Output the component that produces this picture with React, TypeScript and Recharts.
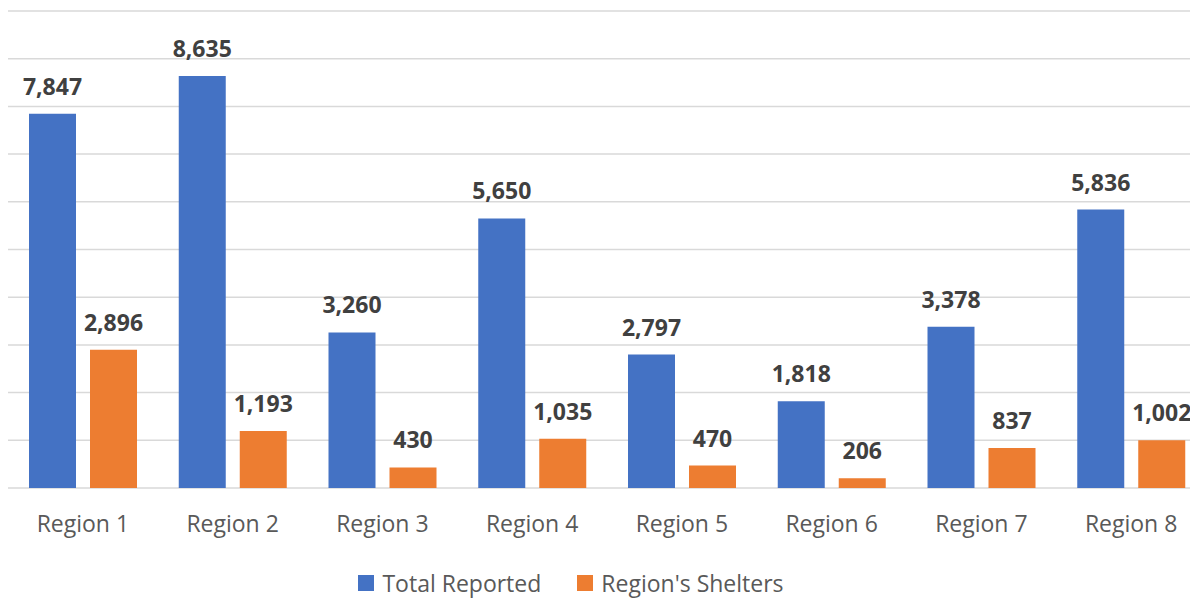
import { Bar, BarChart, CartesianGrid, LabelList, Legend, XAxis, YAxis } from 'recharts';

const regions = ['Region 1', 'Region 2', 'Region 3', 'Region 4', 'Region 5', 'Region 6', 'Region 7', 'Region 8'];
const totalReported = [7847, 8635, 3260, 5650, 2797, 1818, 3378, 5836];
const regionShelters = [2896, 1193, 430, 1035, 470, 206, 837, 1002];
const yTicks = [0, 1000, 2000, 3000, 4000, 5000, 6000, 7000, 8000, 9000, 10000];

const seriesList = [
  { key: 'total', name: 'Total Reported', color: '#4472C4' },
  { key: 'shelters', name: "Region's Shelters", color: '#ED7D31' },
];

const data = regions.map((name, i) => ({
  name,
  total: totalReported[i],
  shelters: regionShelters[i],
}));

const font = '"Open Sans", Lato, sans-serif';
const fmt = (v: any) => Number(v).toLocaleString('en-US');

// legend kept in series order (recharts would sort it by name)
function LegendBox() {
  return (
    <div style={{ display: 'flex', justifyContent: 'center', paddingRight: 72, fontFamily: font }}>
      {seriesList.map((s, i) => (
        <div key={s.key} style={{ display: 'flex', alignItems: 'center', marginLeft: i ? 36 : 0 }}>
          <span style={{ width: 16, height: 16, background: s.color, display: 'inline-block', marginRight: 8 }} />
          <span style={{ color: '#595959', fontSize: 23 }}>{s.name}</span>
        </div>
      ))}
    </div>
  );
}

export default function App() {
  return (
    <div style={{ fontFamily: font }}>
      <BarChart
        width={1198}
        height={591}
        data={data}
        margin={{ top: 3, right: 0, bottom: 0, left: 0 }}
        barSize={47}
        barGap={14}
      >
        <CartesianGrid vertical={false} stroke="#d9d9d9" strokeWidth={1.5} />
        <YAxis hide domain={[0, 10000]} ticks={yTicks} />
        <XAxis
          dataKey="name"
          axisLine={false}
          tickLine={false}
          height={79}
          tick={{ fill: '#595959', fontSize: 23, fontFamily: font }}
          dy={20}
        />
        <Legend verticalAlign="bottom" content={<LegendBox />} />
        {seriesList.map((s) => (
          <Bar key={s.key} dataKey={s.key} name={s.name} fill={s.color} isAnimationActive={false}>
            <LabelList
              dataKey={s.key}
              position="top"
              offset={19}
              formatter={fmt}
              fill="#404040"
              fontSize={23}
              fontWeight="bold"
              fontFamily={font}
            />
          </Bar>
        ))}
      </BarChart>
    </div>
  );
}
